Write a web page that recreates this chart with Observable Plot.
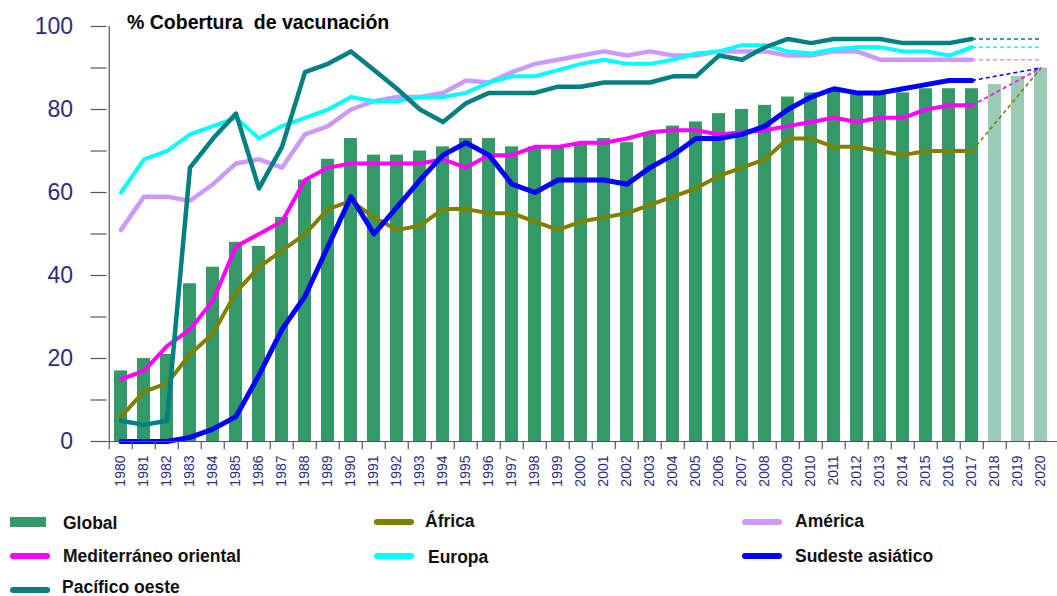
<!DOCTYPE html>
<html>
<head>
<meta charset="utf-8">
<script src="https://cdn.jsdelivr.net/npm/d3@7"></script>
<script src="https://cdn.jsdelivr.net/npm/@observablehq/plot@0.6"></script>
<style>
  html, body { margin: 0; padding: 0; background: #fff; }
  body { width: 1057px; height: 596px; overflow: hidden; position: relative; font-family: "Liberation Sans", Arial, sans-serif; }
  #chart { position: absolute; left: 0; top: 0; }
  #title { position: absolute; left: 127px; top: 12px; font-weight: bold; font-size: 19.5px; line-height: 20px; white-space: pre; color: #000; }
  .sw { position: absolute; }
  .lab { position: absolute; font-weight: bold; font-size: 17.5px; line-height: 18px; color: #111; white-space: nowrap; }
</style>
</head>
<body>
<div id="chart"></div>
<div id="title">% Cobertura  de vacunación</div>
<div id="legend"></div>
<script>
// ---- data ----
const years = ["1980","1981","1982","1983","1984","1985","1986","1987","1988","1989",
  "1990","1991","1992","1993","1994","1995","1996","1997","1998","1999",
  "2000","2001","2002","2003","2004","2005","2006","2007","2008","2009",
  "2010","2011","2012","2013","2014","2015","2016","2017","2018","2019","2020"];
const observedYears = years.slice(0, 38);   // 1980–2017
const projectedYears = ["2018","2019","2020"];

const global = [17,20,21,38,42,48,47,54,63,68,73,69,69,70,71,73,73,71,71,71,72,73,72,74,76,77,79,80,81,83,84,85,84,84,84,85,85,85];
const globalProjected = [86,88,90];

const africa = [6,12,14,21,26,36,42,46,50,56,58,54,51,52,56,56,55,55,53,51,53,54,55,57,59,61,64,66,68,73,73,71,71,70,69,70,70,70];
const america = [51,59,59,58,62,67,68,66,74,76,80,82,83,83,84,87,86.5,89,91,92,93,94,93,94,93,93,94,94,94,93,93,94,94,92,92,92,92,92];
const mediterraneo = [15,17,23,27,34,47,50,53,63,66,67,67,67,67,68,66,69,69,71,71,72,72,73,74.5,75,75,74,74.5,75,76,77,78,77,78,78,80,81,81];
const europa = [60,68,70,74,76,78,73,76,78,80,83,82,82,83,83,84,86.5,88,88,89.5,91,92,91,91,92,93.5,94,95.5,95.5,94,93.5,94.5,95,95,94,94,93,95];
const sudeste = [0,0,0,1,3,6,16,27,35,47,59,50,56.5,63,69,72,69,62,60,63,63,63,62,66,69,73,73,74,76,80,83,85,84,84,85,86,87,87];
const pacifico = [5,4,5,66,73,79,61,71,89,91,94,89.5,85,80,77,81.5,84,84,84,85.5,85.5,86.5,86.5,86.5,88,88,93,92,95,97,96,97,97,97,96,96,96,97];

// 2020 targets (dashed projections from 2017)
const target2020 = {africa: 90, america: 92, mediterraneo: 90, europa: 95, sudeste: 90, pacifico: 97};

const yTicks = [0,10,20,30,40,50,60,70,80,90,100];
const yLabels = [0,20,40,60,80,100];

// ---- series definitions ----
const series = [
  {key: "america", name: "América", values: america, color: "#cc99ff", w: 4.5},
  {key: "europa", name: "Europa", values: europa, color: "#00ffff", w: 4},
  {key: "africa", name: "África", values: africa, color: "#808000", w: 4},
  {key: "mediterraneo", name: "Mediterráneo oriental", values: mediterraneo, color: "#ff00ff", w: 4},
  {key: "pacifico", name: "Pacífico oeste", values: pacifico, color: "#008080", w: 4.5},
  {key: "sudeste", name: "Sudeste asiático", values: sudeste, color: "#0000ff", w: 5}
];

const globalRows = observedYears.map((y, i) => ({year: y, value: global[i]}));
const globalProjRows = projectedYears.map((y, i) => ({year: y, value: globalProjected[i]}));

const step = 23.5;
const x0 = 98.5;

const lineMarks = series.map(s =>
  Plot.line(observedYears.map((y, i) => ({year: y, value: s.values[i]})), {
    x: "year", y: "value", stroke: s.color, strokeWidth: s.w,
    strokeLinejoin: "round", strokeLinecap: "round"
  })
);
const projMarks = series.map(s =>
  Plot.link([{from: s.values[s.values.length - 1], to: target2020[s.key]}], {
    x1: () => "2017", x2: () => "2020", y1: "from", y2: "to",
    stroke: s.color, strokeWidth: 1.6, strokeDasharray: "4,3"
  })
);

const chart = Plot.plot({
  width: 1057,
  height: 500,
  marginLeft: x0,
  marginRight: 0,
  marginTop: 26,
  marginBottom: 59,
  style: {fontFamily: "'Liberation Sans', Arial, sans-serif", color: "#2b2d7c", background: "transparent", overflow: "visible"},
  x: {type: "band", domain: years, range: [x0, x0 + step * years.length], paddingInner: 0.42, paddingOuter: 0.21, axis: null, label: null},
  y: {domain: [0, 100], axis: null, label: null},
  marks: [
    Plot.barY(globalRows, {x: "year", y: "value", fill: "#339966"}),
    Plot.barY(globalProjRows, {x: "year", y: "value", fill: "#9ccbb3"}),
    ...projMarks,
    ...lineMarks,
    Plot.ruleY([0], {stroke: "#555", strokeWidth: 1.2}),
    Plot.ruleX(["1980"], {x: d => d, y1: 0, y2: 100, dx: -step / 2, stroke: "#555", strokeWidth: 1.2}),
    Plot.ruleX(years, {x: d => d, y1: 0, y2: -2, dx: -step / 2, stroke: "#555", strokeWidth: 1.2}),
    Plot.tickY(yTicks, {y: d => d, insetRight: (1057 - x0) - 16, dx: -8, stroke: "#555", strokeWidth: 1.2}),
    Plot.axisY({ticks: yLabels, tickSize: 0, tickPadding: 26, fontSize: 23, label: null}),
    Plot.axisX({tickRotate: -90, tickSize: 0, tickPadding: 14, fontSize: 14, label: null})
  ]
});
document.getElementById("chart").appendChild(chart);

// ---- legend ----
const legendItems = [
  {name: "Global", type: "rect", color: "#339966", sx: 10, sy: 517, tx: 63, ty: 514},
  {name: "Mediterráneo oriental", type: "line", color: "#ff00ff", sx: 10, sy: 556, tx: 63, ty: 547},
  {name: "Pacífico oeste", type: "line", color: "#008080", sx: 10, sy: 590, tx: 62, ty: 578},
  {name: "África", type: "line", color: "#808000", sx: 374, sy: 522, tx: 425, ty: 512},
  {name: "Europa", type: "line", color: "#00ffff", sx: 374, sy: 556, tx: 428, ty: 548},
  {name: "América", type: "line", color: "#cc99ff", sx: 742, sy: 522, tx: 795, ty: 512},
  {name: "Sudeste asiático", type: "line", color: "#0000ff", sx: 742, sy: 556, tx: 795, ty: 547}
];
const leg = document.getElementById("legend");
for (const it of legendItems) {
  const sw = document.createElement("div");
  sw.className = "sw";
  if (it.type === "rect") {
    Object.assign(sw.style, {left: it.sx + "px", top: it.sy + "px", width: "36px", height: "10px", background: it.color});
  } else {
    Object.assign(sw.style, {left: it.sx + "px", top: (it.sy - 3) + "px", width: "40px", height: "6px", background: it.color, borderRadius: "3px"});
  }
  leg.appendChild(sw);
  const t = document.createElement("div");
  t.className = "lab";
  t.textContent = it.name;
  Object.assign(t.style, {left: it.tx + "px", top: it.ty + "px"});
  leg.appendChild(t);
}
</script>
</body>
</html>
